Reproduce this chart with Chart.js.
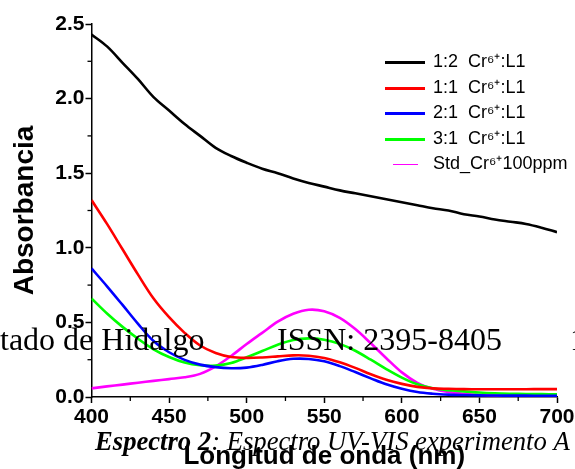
<!DOCTYPE html>
<html><head><meta charset="utf-8">
<script src="https://cdn.jsdelivr.net/npm/chart.js@4/dist/chart.umd.min.js"></script>
<style>html,body{margin:0;padding:0;background:#fff;overflow:hidden}#wrap{width:575px;height:469px;position:relative}</style>
</head><body><div id="wrap"><canvas id="c" width="575" height="469"></canvas></div>
<script>
// ---- data ----
const wavelengths = [400,410,420,430,440,450,460,470,480,490,500,510,520,530,540,550,560,570,580,590,600,610,620,630,640,650,660,670,680,690,700];
const seriesLabels = ['1:2  Cr\u2076\u207A:L1','1:1  Cr\u2076\u207A:L1','2:1  Cr\u2076\u207A:L1','3:1  Cr\u2076\u207A:L1','Std_Cr\u2076\u207A100ppm'];
const ratio12 = [2.43,2.35,2.24,2.13,2.01,1.92,1.83,1.75,1.67,1.615,1.57,1.53,1.50,1.465,1.435,1.41,1.385,1.365,1.345,1.325,1.305,1.285,1.265,1.25,1.225,1.21,1.19,1.175,1.16,1.135,1.105];
const ratio11 = [1.32,1.16,0.99,0.82,0.66,0.535,0.43,0.345,0.295,0.268,0.262,0.265,0.272,0.279,0.277,0.262,0.233,0.195,0.152,0.115,0.088,0.068,0.058,0.055,0.053,0.052,0.052,0.052,0.052,0.053,0.053];
const ratio21 = [0.862,0.742,0.617,0.49,0.375,0.30,0.249,0.217,0.20,0.193,0.197,0.215,0.24,0.256,0.255,0.239,0.207,0.167,0.125,0.085,0.055,0.033,0.022,0.016,0.013,0.011,0.010,0.009,0.009,0.008,0.008];
const ratio31 = [0.661,0.56,0.47,0.39,0.32,0.268,0.231,0.213,0.211,0.228,0.266,0.308,0.35,0.382,0.393,0.384,0.356,0.31,0.25,0.187,0.13,0.085,0.058,0.045,0.038,0.030,0.025,0.022,0.020,0.019,0.018];
const stdCr100 = [0.058,0.071,0.083,0.096,0.108,0.12,0.132,0.155,0.205,0.275,0.355,0.43,0.505,0.558,0.585,0.575,0.53,0.455,0.36,0.26,0.165,0.095,0.055,0.033,0.022,0.015,0.010,0.007,0.005,0.004,0.003];
const xTickValues = [400,450,500,550,600,650,700];
const yTickValues = [0,0.5,1.0,1.5,2.0,2.5];
const xTitle = 'Longitud de onda (nm)';
const yTitle = 'Absorbancia';
const captionBold = 'Espectro 2';
const captionRest = ': Espectro UV-VIS experimento A';
const overlayTexts = ['tado de Hidalgo','ISSN: 2395-8405','1'];

const colors = ['#000000','#ff0000','#0000ff','#00ff00','#ff00ff'];
const allSeries = [ratio12, ratio11, ratio21, ratio31, stdCr100];

function makeIcon(color, w, h){
  const c = document.createElement('canvas'); c.width = w; c.height = h;
  const g = c.getContext('2d'); g.fillStyle = color; g.fillRect(0,0,w,h); return c;
}
const legendIcons = colors.map((c,i)=> i===4 ? makeIcon(c,25,1) : makeIcon(c,40,3));

const datasets = allSeries.map((s,i)=>({
  label: seriesLabels[i],
  data: s.map((v,j)=>({x: wavelengths[j], y: v})),
  borderColor: colors[i], backgroundColor: colors[i],
  borderWidth: 2.6, pointRadius: 0, tension: 0.35, fill: false
}));

const isMajorX = v => xTickValues.includes(v);
const isMajorY = v => yTickValues.some(t => Math.abs(t - v) < 1e-6);

const minorTicks = {
  id: 'minorTicks',
  afterDraw(chart){
    const {ctx, scales:{x, y}} = chart;
    ctx.save(); ctx.strokeStyle = '#000'; ctx.lineWidth = 1.3;
    x.ticks.forEach(t => { if (!isMajorX(t.value)) { const p = x.getPixelForValue(t.value); ctx.beginPath(); ctx.moveTo(p, y.bottom); ctx.lineTo(p, y.bottom + 4); ctx.stroke(); } });
    y.ticks.forEach(t => { if (!isMajorY(t.value)) { const p = y.getPixelForValue(t.value); ctx.beginPath(); ctx.moveTo(x.left, p); ctx.lineTo(x.left - 4, p); ctx.stroke(); } });
    ctx.restore();
  }
};

const overlay = {
  id: 'overlay',
  afterDraw(chart){
    const ctx = chart.ctx;
    ctx.save();
    ctx.fillStyle = '#000'; ctx.textBaseline = 'alphabetic'; ctx.textAlign = 'left';
    ctx.font = '32px "Liberation Serif"';
    ctx.fillText(overlayTexts[0], 0, 350);
    ctx.fillText(overlayTexts[1], 277, 350);
    ctx.fillText(overlayTexts[2], 570, 350);
    // caption fitted to its width in the reference
    let s = 24;
    ctx.font = 'italic bold ' + s + 'px "Liberation Serif"';
    const w1 = ctx.measureText(captionBold).width;
    ctx.font = 'italic ' + s + 'px "Liberation Serif"';
    const w2 = ctx.measureText(captionRest).width;
    s = s * 475 / (w1 + w2);
    ctx.font = 'italic bold ' + s + 'px "Liberation Serif"';
    ctx.fillText(captionBold, 95, 450);
    const wb = ctx.measureText(captionBold).width;
    ctx.font = 'italic ' + s + 'px "Liberation Serif"';
    ctx.fillText(captionRest, 95 + wb, 450);
    ctx.restore();
  }
};

const placeLegend = {
  id: 'placeLegend',
  afterLayout(chart){
    const lg = chart.legend; if (!lg) return;
    const w = lg.width, h = lg.height;
    lg.left = 378.5; lg.top = 46; lg.right = lg.left + w; lg.bottom = lg.top + h;
  }
};

const tickFont = {family: '"Liberation Sans", Arial, sans-serif', size: 21, weight: 'bold'};

new Chart(document.getElementById('c'), {
  type: 'line',
  data: { datasets },
  options: {
    responsive: false, devicePixelRatio: 1, animation: false,
    layout: { padding: { left: 0, right: 18, top: 24, bottom: 0 } },
    plugins: {
      tooltip: { enabled: false },
      legend: {
        position: 'chartArea', align: 'start',
        labels: {
          usePointStyle: true, pointStyleWidth: 38, padding: 7.5,
          color: '#000', font: { family: '"Liberation Sans", Arial, sans-serif', size: 18 },
          generateLabels(chart){
            const items = Chart.defaults.plugins.legend.labels.generateLabels(chart);
            items.forEach((it,i)=>{ it.pointStyle = legendIcons[i]; });
            return items;
          }
        }
      }
    },
    scales: {
      x: {
        type: 'linear', min: 400, max: 700,
        border: { display: true, color: '#000', width: 1.5 },
        grid: { drawOnChartArea: false, drawTicks: true, tickLength: 6, tickWidth: 1.5,
                tickColor: c => isMajorX(c.tick && c.tick.value) ? '#000' : 'rgba(0,0,0,0)' },
        ticks: { stepSize: 25, color: '#000', font: tickFont, padding: 2, maxRotation: 0, autoSkip: false,
                 callback: v => isMajorX(v) ? String(v) : '' },
        title: { display: true, text: xTitle, color: '#000',
                 font: {family: '"Liberation Sans", Arial, sans-serif', size: 26, weight: 'bold'},
                 padding: { top: 0, bottom: -3.6 } },
        afterFit(s){ s.height = 72; s.paddingLeft = 0; s.paddingRight = 0; }
      },
      y: {
        type: 'linear', min: 0, max: 2.5,
        border: { display: true, color: '#000', width: 1.5 },
        grid: { drawOnChartArea: false, drawTicks: true, tickLength: 6, tickWidth: 1.5,
                tickColor: c => isMajorY(c.tick ? c.tick.value : -1) ? '#000' : 'rgba(0,0,0,0)' },
        ticks: { stepSize: 0.25, color: '#000', font: tickFont, padding: 1, autoSkip: false,
                 callback: v => isMajorY(v) ? v.toFixed(1) : '' },
        title: { display: true, text: yTitle, color: '#000',
                 font: {family: '"Liberation Sans", Arial, sans-serif', size: 28, weight: 'bold'},
                 padding: { top: 8, bottom: 0 } },
        afterFit(s){ s.width = 91.5; s.paddingTop = 0; s.paddingBottom = 0; }
      }
    }
  },
  plugins: [placeLegend, minorTicks, overlay]
});
</script></body></html>
